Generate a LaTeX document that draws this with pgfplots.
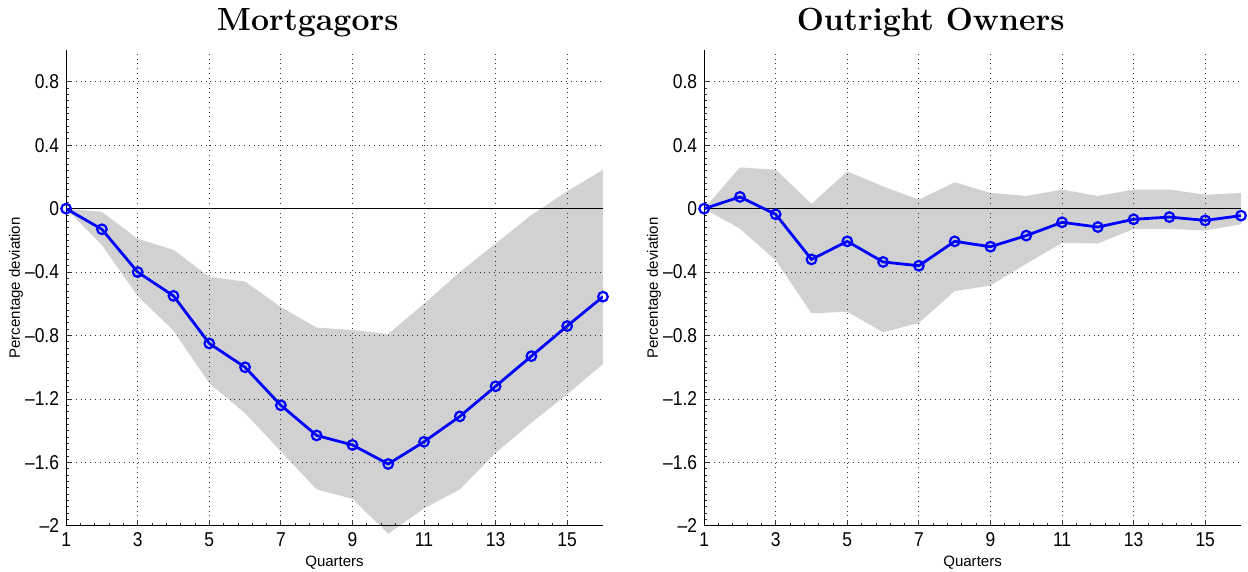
\documentclass[border=0pt]{standalone}
\usepackage{fontspec}
\setsansfont{Liberation Sans}
\newfontfamily\tickfont[FakeStretch=0.87]{Liberation Sans}
\usepackage{pgfplots}
\pgfplotsset{compat=1.18}
\definecolor{band}{RGB}{209,209,209}
\pgfplotsset{
  irf/.style={
    scale only axis, width=268pt, height=237.5pt,
    xmin=1, xmax=16, ymin=-2, ymax=1,
    axis x line*=bottom, axis y line*=left,
    axis line style={-, black, line width=0.5pt},
    xtick={1,3,5,7,9,11,13,15},
    xticklabels={1,3,5,7,9,11,13,15},
    ytick={-2,-1.6,-1.2,-0.8,-0.4,0,0.4,0.8},
    yticklabels={\textendash2,\textendash1.6,\textendash1.2,\textendash0.8,\textendash0.4,0,0.4,0.8},
    minor y tick num=9, minor x tick num=4,
    tick align=inside,
    major tick length=3pt, minor tick length=1.3pt,
    tick style={black!80, line width=0.4pt},
    grid=major,
    major grid style={dotted, black!80, line width=0.45pt},
    tick label style={font=\tickfont\fontsize{10}{11}\selectfont},
    /pgf/number format/assume math mode=true,
    xlabel={Quarters}, ylabel={Percentage deviation},
    label style={font=\sffamily\fontsize{7.5}{9}\selectfont},
    xlabel style={at={(axis description cs:0.5,-0.048)}, anchor=north},
    ylabel style={at={(axis description cs:-0.067,0.5)}, anchor=south},
    title style={font=\rmfamily\bfseries\fontsize{16}{18}\selectfont, anchor=base},
    set layers,
  },
  irfline/.style={blue, line width=1.4pt, mark=o, mark size=2.4pt, mark options={line width=1.1pt, solid}},
  zeroline/.style={black, line width=0.5pt},
}
\begin{document}
\begin{tikzpicture}
\begin{axis}[irf, name=left, at={(0pt,0pt)}, anchor=south west,
  title={Mortgagors}, title style={at={(axis description cs:0.45,1.015)}}]
\addplot[fill=band, draw=none, on layer=axis background] coordinates {
  (1,0) (2,-0.02) (3,-0.19) (4,-0.26) (5,-0.43) (6,-0.46) (7,-0.62) (8,-0.75)
  (9,-0.765) (10,-0.79) (11,-0.60) (12,-0.40) (13,-0.22) (14,-0.04) (15,0.11) (16,0.245)
  (16,-0.98) (15,-1.17) (14,-1.35) (13,-1.54) (12,-1.77) (11,-1.89) (10,-2.05) (9,-1.83)
  (8,-1.77) (7,-1.53) (6,-1.29) (5,-1.10) (4,-0.77) (3,-0.55) (2,-0.23) (1,0)
};
\addplot[zeroline] coordinates {(1,0) (16,0)};
\addplot[irfline] coordinates {
  (1,0) (2,-0.13) (3,-0.40) (4,-0.55) (5,-0.85) (6,-1.00) (7,-1.24) (8,-1.43)
  (9,-1.49) (10,-1.61) (11,-1.47) (12,-1.31) (13,-1.12) (14,-0.93) (15,-0.74) (16,-0.555)
};
\end{axis}
\begin{axis}[irf, name=right, at={(318.5pt,0pt)}, anchor=south west,
  title={Outright Owners}, title style={at={(axis description cs:0.422,1.015)}}]
\addplot[fill=band, draw=none, on layer=axis background] coordinates {
  (1,0) (2,0.26) (3,0.246) (4,0.03) (5,0.235) (6,0.14) (7,0.057) (8,0.166)
  (9,0.099) (10,0.08) (11,0.12) (12,0.08) (13,0.12) (14,0.12) (15,0.088) (16,0.099)
  (16,-0.099) (15,-0.137) (14,-0.128) (13,-0.128) (12,-0.22) (11,-0.216) (10,-0.347) (9,-0.485)
  (8,-0.52) (7,-0.72) (6,-0.78) (5,-0.65) (4,-0.66) (3,-0.326) (2,-0.126) (1,0)
};
\addplot[zeroline] coordinates {(1,0) (16,0)};
\addplot[irfline] coordinates {
  (1,0) (2,0.074) (3,-0.036) (4,-0.32) (5,-0.206) (6,-0.336) (7,-0.36) (8,-0.206)
  (9,-0.24) (10,-0.17) (11,-0.086) (12,-0.116) (13,-0.067) (14,-0.053) (15,-0.074) (16,-0.044)
};
\end{axis}
\pgfresetboundingbox
\path ([shift={(-33pt,-23pt)}]left.south west) rectangle ([shift={(3.5pt,25pt)}]right.north east);
\end{tikzpicture}
\end{document}
